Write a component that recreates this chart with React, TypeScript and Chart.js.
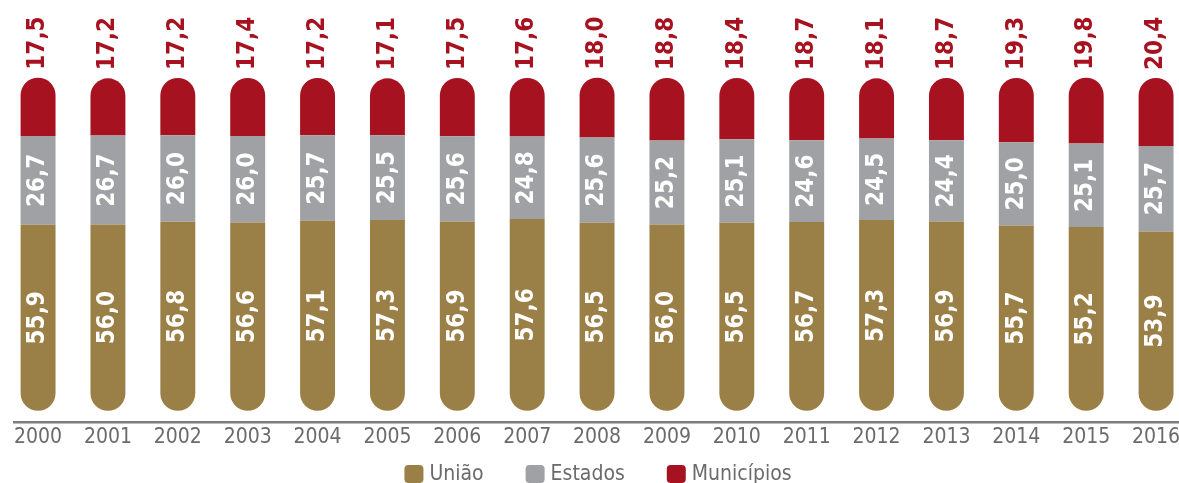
import React, { useEffect, useRef } from 'react';
import { Chart, registerables } from 'chart.js';

Chart.register(...registerables);

const years = ['2000', '2001', '2002', '2003', '2004', '2005', '2006', '2007', '2008', '2009', '2010', '2011', '2012', '2013', '2014', '2015', '2016'];
const uniao = [55.9, 56.0, 56.8, 56.6, 57.1, 57.3, 56.9, 57.6, 56.5, 56.0, 56.5, 56.7, 57.3, 56.9, 55.7, 55.2, 53.9];
const estados = [26.7, 26.7, 26.0, 26.0, 25.7, 25.5, 25.6, 24.8, 25.6, 25.2, 25.1, 24.6, 24.5, 24.4, 25.0, 25.1, 25.7];
const municipios = [17.5, 17.2, 17.2, 17.4, 17.2, 17.1, 17.5, 17.6, 18.0, 18.8, 18.4, 18.7, 18.1, 18.7, 19.3, 19.8, 20.4];
const seriesNames = ['União', 'Estados', 'Municípios'];
const seriesColors = ['#9a8046', '#a0a1a4', '#a6121f'];

const fmt = (v: number) => v.toFixed(1).replace('.', ',');
const narrowFont = '"Liberation Sans Narrow", "DejaVu Sans Condensed", sans-serif';
const labelFont = 'bold 24px "DejaVu Sans Condensed", "DejaVu Sans", sans-serif';
const textGray = '#6b6b6b';

export default function App() {
  const ref = useRef<HTMLCanvasElement>(null);

  useEffect(() => {
    document.body.style.margin = '0';
    const canvas = ref.current;
    if (!canvas) return;

    const valueLabels = {
      id: 'valueLabels',
      afterDatasetsDraw(chart: any) {
        const ctx = chart.ctx;
        ctx.save();
        ctx.font = labelFont;
        ctx.textBaseline = 'middle';
        chart.data.datasets.forEach((ds: any, di: number) => {
          const meta = chart.getDatasetMeta(di);
          meta.data.forEach((bar: any, i: number) => {
            const { x, y, base } = bar.getProps(['x', 'y', 'base'], true);
            const text = fmt(ds.data[i]);
            ctx.save();
            if (di === 2) {
              ctx.translate(x, y - 8);
              ctx.textAlign = 'left';
              ctx.fillStyle = seriesColors[2];
            } else {
              ctx.translate(x, (y + base) / 2);
              ctx.textAlign = 'center';
              ctx.fillStyle = '#ffffff';
            }
            ctx.rotate(-Math.PI / 2);
            ctx.fillText(text, 0, 0);
            ctx.restore();
          });
        });
        ctx.restore();
      },
    };

    const axisLine = {
      id: 'axisLine',
      beforeDatasetsDraw(chart: any) {
        const ctx = chart.ctx;
        const y = chart.chartArea.bottom + 11.5;
        ctx.save();
        ctx.strokeStyle = '#7d7d7d';
        ctx.lineWidth = 2.5;
        ctx.beginPath();
        ctx.moveTo(13, y);
        ctx.lineTo(chart.width, y);
        ctx.stroke();
        ctx.restore();
      },
    };

    const customLegend = {
      id: 'customLegend',
      afterDraw(chart: any) {
        const ctx = chart.ctx;
        ctx.save();
        ctx.font = '21px ' + narrowFont;
        const boxW = 19, boxH = 18, textGap = 6, itemGap = 42;
        const items = chart.data.datasets.map((ds: any) => ({
          text: ds.label,
          color: ds.backgroundColor,
          w: ctx.measureText(ds.label).width,
        }));
        const total = items.reduce((s: number, it: any) => s + boxW + textGap + it.w, 0) + itemGap * (items.length - 1);
        let x = chart.width / 2 - 2 - total / 2;
        const cy = 474;
        items.forEach((it: any) => {
          ctx.fillStyle = it.color;
          ctx.beginPath();
          ctx.roundRect(x, cy - boxH / 2, boxW, boxH, 4);
          ctx.fill();
          ctx.fillStyle = textGray;
          ctx.textBaseline = 'middle';
          ctx.textAlign = 'left';
          ctx.fillText(it.text, x + boxW + textGap, cy + 1);
          x += boxW + textGap + it.w + itemGap;
        });
        ctx.restore();
      },
    };

    const chart = new Chart(canvas, {
      type: 'bar',
      data: {
        labels: years,
        datasets: [
          {
            label: seriesNames[0],
            data: uniao,
            backgroundColor: seriesColors[0],
            borderRadius: { topLeft: 0, topRight: 0, bottomLeft: 18, bottomRight: 18 },
            borderSkipped: false,
            clip: false,
          },
          {
            label: seriesNames[1],
            data: estados,
            backgroundColor: seriesColors[1],
            borderRadius: 0,
            borderSkipped: false,
            clip: false,
          },
          {
            label: seriesNames[2],
            data: municipios,
            backgroundColor: seriesColors[2],
            borderRadius: { topLeft: 18, topRight: 18, bottomLeft: 0, bottomRight: 0 },
            borderSkipped: false,
            clip: false,
          },
        ] as any,
      },
      options: {
        responsive: false,
        animation: false,
        devicePixelRatio: 1,
        layout: { padding: { top: 78, left: 1, right: 9, bottom: 19 } },
        datasets: { bar: { barPercentage: 0.5, categoryPercentage: 1.0 } },
        scales: {
          x: {
            stacked: true,
            grid: { display: false, drawTicks: false },
            border: { display: false },
            ticks: {
              color: textGray,
              padding: 14,
              font: { family: narrowFont, size: 21 },
              maxRotation: 0,
              autoSkip: false,
            },
          },
          y: {
            stacked: true,
            display: false,
            min: 0,
            max: 100,
          },
        },
        plugins: {
          legend: { display: false },
          tooltip: { enabled: false },
        },
      } as any,
      plugins: [axisLine, valueLabels, customLegend],
    });

    return () => chart.destroy();
  }, []);

  return (
    <div style={{ position: 'fixed', left: 0, top: 0, width: 1179, height: 483, overflow: 'hidden', background: '#ffffff' }}>
      <canvas ref={ref} width={1200} height={483} style={{ display: 'block' }} />
    </div>
  );
}
